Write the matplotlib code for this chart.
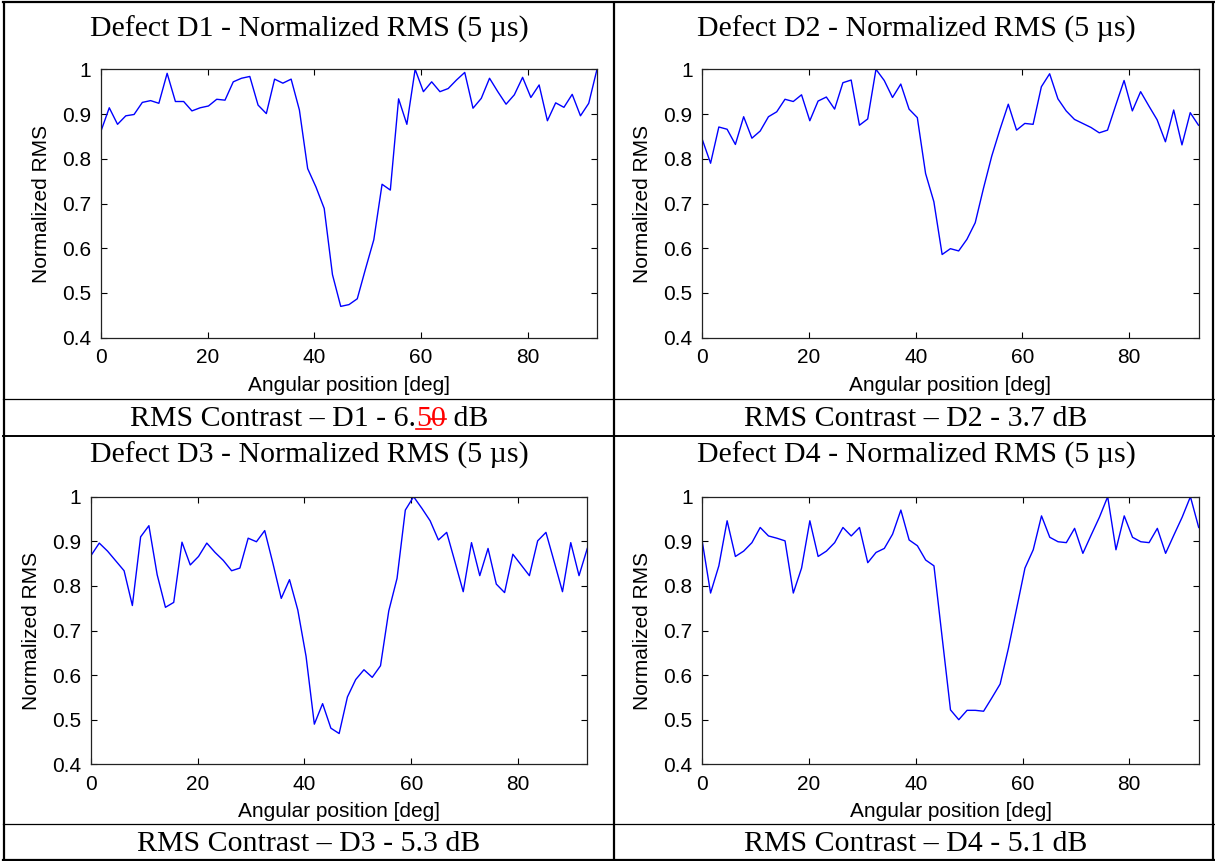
import numpy as np
import matplotlib
matplotlib.use("Agg")
import matplotlib.pyplot as plt

# ---------------------------------------------------------------- data
# angular scan positions (61 samples over 0..93 deg)
angle = np.linspace(0.0, 93.0, 61)

rms_d1 = [0.862, 0.914, 0.877, 0.896, 0.899, 0.926, 0.930, 0.924, 0.991, 0.928,
          0.928, 0.907, 0.914, 0.918, 0.933, 0.931, 0.972, 0.980, 0.984, 0.920,
          0.901, 0.978, 0.969, 0.978, 0.909, 0.778, 0.737, 0.689, 0.541, 0.470,
          0.474, 0.487, 0.554, 0.619, 0.743, 0.730, 0.934, 0.877, 1.000, 0.950,
          0.972, 0.950, 0.957, 0.976, 0.993, 0.913, 0.935, 0.980, 0.950, 0.922,
          0.943, 0.982, 0.937, 0.965, 0.885, 0.925, 0.915, 0.944, 0.896, 0.924,
          1.000]

rms_d2 = [0.843, 0.790, 0.871, 0.866, 0.832, 0.894, 0.846, 0.862, 0.894, 0.905,
          0.933, 0.928, 0.943, 0.885, 0.929, 0.938, 0.911, 0.970, 0.976, 0.875,
          0.889, 1.000, 0.975, 0.937, 0.967, 0.911, 0.892, 0.767, 0.704, 0.586,
          0.599, 0.594, 0.620, 0.657, 0.734, 0.806, 0.866, 0.922, 0.864, 0.879,
          0.877, 0.961, 0.990, 0.934, 0.907, 0.888, 0.879, 0.870, 0.858, 0.864,
          0.920, 0.975, 0.907, 0.950, 0.918, 0.887, 0.838, 0.909, 0.831, 0.903,
          0.875]

rms_d3 = [0.868, 0.896, 0.878, 0.856, 0.834, 0.756, 0.910, 0.935, 0.825, 0.752,
          0.763, 0.898, 0.847, 0.866, 0.896, 0.875, 0.857, 0.834, 0.840, 0.907,
          0.899, 0.924, 0.850, 0.772, 0.814, 0.746, 0.642, 0.490, 0.536, 0.481,
          0.469, 0.551, 0.590, 0.612, 0.595, 0.621, 0.744, 0.817, 0.970, 1.000,
          0.974, 0.946, 0.903, 0.920, 0.854, 0.787, 0.897, 0.823, 0.884, 0.804,
          0.785, 0.871, 0.847, 0.823, 0.901, 0.920, 0.854, 0.787, 0.897, 0.823,
          0.884]

rms_d4 = [0.899, 0.784, 0.845, 0.946, 0.866, 0.878, 0.897, 0.931, 0.912, 0.907,
          0.901, 0.784, 0.840, 0.946, 0.866, 0.878, 0.897, 0.931, 0.912, 0.931,
          0.852, 0.875, 0.884, 0.916, 0.970, 0.903, 0.890, 0.858, 0.845, 0.683,
          0.522, 0.500, 0.521, 0.521, 0.519, 0.549, 0.580, 0.660, 0.750, 0.840,
          0.881, 0.957, 0.909, 0.899, 0.897, 0.929, 0.873, 0.914, 0.954, 1.000,
          0.881, 0.957, 0.909, 0.899, 0.897, 0.929, 0.873, 0.914, 0.954, 1.000,
          0.931]

defects = ["D1", "D2", "D3", "D4"]
contrast_db = ["6.50", "3.7", "5.3", "5.1"]
x_ticks = [0, 20, 40, 60, 80]
y_ticks = [0.4, 0.5, 0.6, 0.7, 0.8, 0.9, 1.0]
y_ticklabels = ["0.4", "0.5", "0.6", "0.7", "0.8", "0.9", "1"]

# ---------------------------------------------------------------- layout
W, H, DPI = 1215, 861, 100
SERIF = "Liberation Serif"
SANS = "Liberation Sans"
fig = plt.figure(figsize=(W / DPI, H / DPI), dpi=DPI)
fig.patch.set_facecolor("white")

# table grid drawn in pixel space on a full-figure axes
grid = fig.add_axes([0, 0, 1, 1], zorder=0)
grid.set_xlim(0, W)
grid.set_ylim(H, 0)
grid.axis("off")
lw_outer = 1.6
grid.plot([4, 4], [1.5, 860], color="black", lw=lw_outer, solid_capstyle="butt")
grid.plot([1213, 1213], [1.5, 860], color="black", lw=lw_outer, solid_capstyle="butt")
grid.plot([3, 1214], [2, 2], color="black", lw=lw_outer)
grid.plot([3, 1214], [859.5, 859.5], color="black", lw=lw_outer)
grid.plot([613.5, 613.5], [1.5, 860], color="black", lw=lw_outer, solid_capstyle="butt")
grid.plot([3, 1214], [436, 436], color="black", lw=1.4)
grid.plot([3, 1214], [399, 399], color="black", lw=0.9)
grid.plot([3, 1214], [823.5, 823.5], color="black", lw=0.9)

# axes rectangles in pixels: left, right, top, bottom
boxes = [(101.0, 597.0, 69.3, 337.7),
         (702.3, 1198.5, 69.3, 337.7),
         (91.0, 587.3, 496.7, 764.3),
         (702.3, 1198.7, 496.7, 764.3)]
series = [rms_d1, rms_d2, rms_d3, rms_d4]
cell_centers = [309, 916, 309, 916]
title_y = [29, 29, 455, 455]
caption_y = [418, 418, 843, 843]

TXT = 21.5
LAB = 15
for i, (l, r, t, b) in enumerate(boxes):
    ax = fig.add_axes([l / W, 1 - b / H, (r - l) / W, (b - t) / H], zorder=2)
    ax.plot(angle, series[i], color="#0000ff", lw=1.0)
    ax.set_xlim(0, 93)
    ax.set_ylim(0.4, 1.0)
    ax.set_xticks(x_ticks)
    ax.set_yticks(y_ticks)
    ax.set_yticklabels(y_ticklabels)
    ax.tick_params(direction="in", length=4, width=0.8, top=True, right=True,
                   labelsize=LAB, colors="black")
    ax.tick_params(axis="x", pad=7.5)
    ax.tick_params(axis="y", pad=7)
    for lab in ax.get_xticklabels() + ax.get_yticklabels():
        lab.set_family(SANS)
    for sp in ax.spines.values():
        sp.set_linewidth(0.9)
        sp.set_color("#222222")
    ax.set_xlabel("Angular position [deg]", family=SANS, fontsize=LAB, va="center")
    ax.set_ylabel("Normalized RMS", family=SANS, fontsize=LAB, va="center")
    ax.xaxis.set_label_coords(0.5, -0.178)
    ax.yaxis.set_label_coords(-0.120, 0.5)

    grid.text(cell_centers[i], title_y[i],
              f"Defect {defects[i]} - Normalized RMS (5 \u00b5s)",
              family=SERIF, fontsize=TXT, ha="center", va="center")

# captions; the first one carries a tracked edit (inserted "5", struck "0")
renderer = fig.canvas.get_renderer()


def text_width(s):
    t = fig.text(0, 0, s, family=SERIF, fontsize=TXT)
    w = t.get_window_extent(renderer).width
    t.remove()
    return w


for i in range(4):
    if i == 0:
        pieces = [("RMS Contrast \u2013 D1 - 6.", "black", None),
                  ("5", "red", "under"),
                  ("0", "red", "strike"),
                  (" dB", "black", None)]
    else:
        pieces = [(f"RMS Contrast \u2013 {defects[i]} - {contrast_db[i]} dB", "black", None)]
    widths = [text_width(p[0]) for p in pieces]
    x = cell_centers[i] - sum(widths) / 2.0
    base = caption_y[i] + 8  # baseline in pixels from top
    for (s, c, deco), w in zip(pieces, widths):
        grid.text(x, base, s, family=SERIF, fontsize=TXT, color=c,
                  ha="left", va="baseline")
        if deco == "under":
            grid.plot([x, x + w], [base + 2.5, base + 2.5], color="red", lw=1.2)
        elif deco == "strike":
            grid.plot([x, x + w], [base - 7, base - 7], color="red", lw=1.2)
        x += w

fig.savefig("out.png", dpi=DPI, facecolor="white")
